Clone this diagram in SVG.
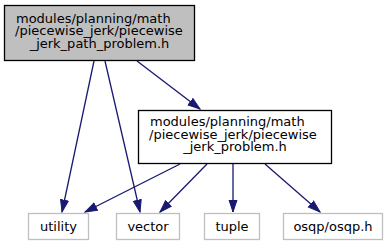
<svg xmlns="http://www.w3.org/2000/svg" width="389" height="245" viewBox="0 0 389 245">
  <defs>
    <style>
      .lbl { font-family: "DejaVu Sans", "Liberation Sans", sans-serif; font-size: 13px; fill: #000000; }
      .mid { text-anchor: middle; }
      .main rect { fill: #bfbfbf; stroke: #000000; stroke-width: 1.3; }
      .inc rect { fill: #ffffff; stroke: #000000; stroke-width: 1.3; }
      .ext rect { fill: #ffffff; stroke: #bfbfbf; stroke-width: 1.3; }
      .edge { fill: none; stroke: #191970; stroke-width: 1.3; marker-end: url(#arrow); }
    </style>
    <marker id="arrow" markerUnits="userSpaceOnUse" markerWidth="14" markerHeight="11" refX="12.5" refY="4.5" orient="auto">
      <path d="M0.5,0.5 L12.5,4.5 L0.5,8.5 z" fill="#191970" stroke="#191970" stroke-width="1"/>
    </marker>
  </defs>
  <rect width="389" height="245" fill="#ffffff"/>

  <g id="edges">
    <path class="edge" d="M94,61 L62,212"/>
    <path class="edge" d="M105,61 L140,212"/>
    <path class="edge" d="M137,61 L200,109"/>
    <path class="edge" d="M180,164 L85,212"/>
    <path class="edge" d="M207,164 L160,212"/>
    <path class="edge" d="M233,164 L233,212"/>
    <path class="edge" d="M265,164 L320,212"/>
  </g>

  <g id="node_path_problem" class="main">
    <rect x="4.5" y="5.5" width="190" height="55"/>
    <text class="lbl" x="16" y="22.5">modules/planning/math</text>
    <text class="lbl" x="15" y="35">/piecewise_jerk/piecewise</text>
    <text class="lbl mid" x="99.5" y="47.5">_jerk_path_problem.h</text>
  </g>

  <g id="node_problem" class="inc">
    <rect x="138.5" y="110.5" width="193" height="53"/>
    <text class="lbl" x="150" y="126">modules/planning/math</text>
    <text class="lbl" x="149" y="138.5">/piecewise_jerk/piecewise</text>
    <text class="lbl mid" x="235" y="151">_jerk_problem.h</text>
  </g>

  <g id="node_utility" class="ext">
    <rect x="28.5" y="213.5" width="60" height="26"/>
    <text class="lbl mid" x="58.5" y="231">utility</text>
  </g>

  <g id="node_vector" class="ext">
    <rect x="116.5" y="213.5" width="63" height="26"/>
    <text class="lbl mid" x="148" y="231">vector</text>
  </g>

  <g id="node_tuple" class="ext">
    <rect x="204.5" y="213.5" width="55" height="26"/>
    <text class="lbl mid" x="232" y="231">tuple</text>
  </g>

  <g id="node_osqp" class="ext">
    <rect x="283.5" y="213.5" width="99" height="26"/>
    <text class="lbl mid" x="333" y="231">osqp/osqp.h</text>
  </g>
</svg>
